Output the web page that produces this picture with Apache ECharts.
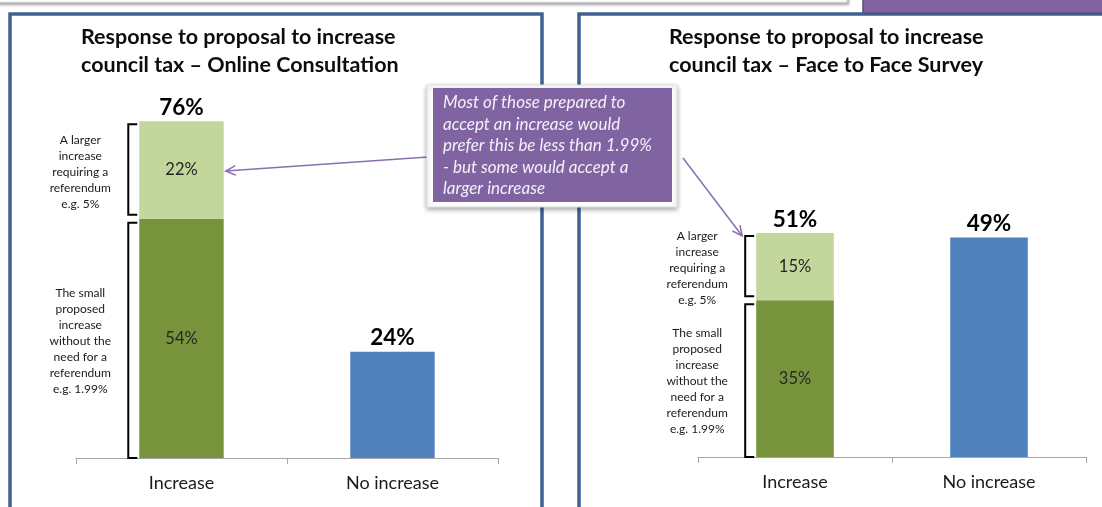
<!DOCTYPE html>
<html>
<head>
<meta charset="utf-8">
<script src="https://cdn.jsdelivr.net/npm/echarts@6/dist/echarts.min.js"></script>
<style>
html,body{margin:0;padding:0;background:#fff;}
#c{width:1102px;height:507px;}
</style>
</head>
<body>
<div id="c"></div>
<script>
// ---- data ----
const categories = ['Increase', 'No increase'];
const onlineSmall = [54, '-'];
const onlineLarger = [22, '-'];
const onlineNo = ['-', 24];
const onlineTotals = [76, 24];
const f2fSmall = [35, '-'];
const f2fLarger = [15, '-'];
const f2fNo = ['-', 49];
const f2fTotals = [51, 49];
const titles = ['Response to proposal to increase\ncouncil tax \u2013 Online Consultation',
                'Response to proposal to increase\ncouncil tax \u2013 Face to Face Survey'];
const bracketUpper = 'A larger\nincrease\nrequiring a\nreferendum\ne.g. 5%';
const bracketLower = 'The small\nproposed\nincrease\nwithout the\nneed for a\nreferendum\ne.g. 1.99%';
const calloutText = 'Most of those prepared to\naccept an increase would\nprefer this be less than 1.99%\n- but some would accept a\nlarger increase';
const annexText = 'See Annexe for further details';

const FONT = 'Lato, "Open Sans", sans-serif';
const C_DARK = '#77933C', C_LIGHT = '#C3D69B', C_BLUE = '#4F81BD';

const chart = echarts.init(document.getElementById('c'), null, {renderer: 'canvas'});

function axisX(i) {
  return {
    type: 'category', gridIndex: i, data: categories,
    axisLine: {lineStyle: {color: '#a6a6a6', width: 1}},
    axisTick: {show: true, length: 6, lineStyle: {color: '#a6a6a6'}},
    axisLabel: {fontSize: 18, color: '#1a1a1a', margin: 16, fontFamily: FONT}
  };
}
function axisY(i) {
  return {type: 'value', gridIndex: i, min: 0, max: 100, show: false, splitLine: {show: false}};
}
function seriesFor(i, small, larger, no, totals) {
  const inner = {show: true, position: 'inside', fontSize: 16.5, color: '#262626', fontFamily: FONT,
                 formatter: p => p.value + '%'};
  return [
    {type: 'bar', xAxisIndex: i, yAxisIndex: i, stack: 's' + i, barWidth: '40%', data: small,
     itemStyle: {color: C_DARK}, label: inner},
    {type: 'bar', xAxisIndex: i, yAxisIndex: i, stack: 's' + i, data: larger,
     itemStyle: {color: C_LIGHT}, label: inner},
    {type: 'bar', xAxisIndex: i, yAxisIndex: i, stack: 's' + i, data: no,
     itemStyle: {color: C_BLUE}},
    {type: 'bar', xAxisIndex: i, yAxisIndex: i, stack: 's' + i, data: totals.map(() => 0),
     itemStyle: {color: 'transparent'},
     label: {show: true, position: 'top', distance: 2, fontSize: 22.5, fontWeight: 'bold', color: '#000',
             fontFamily: FONT, formatter: p => totals[p.dataIndex] + '%'}}
  ];
}

chart.setOption({
  animation: false,
  textStyle: {fontFamily: FONT},
  grid: [
    {left: 76, right: 604, top: 15, bottom: 49},
    {left: 698, right: 16, top: 9, bottom: 50}
  ],
  xAxis: [axisX(0), axisX(1)],
  yAxis: [axisY(0), axisY(1)],
  series: [].concat(
    seriesFor(0, onlineSmall, onlineLarger, onlineNo, onlineTotals),
    seriesFor(1, f2fSmall, f2fLarger, f2fNo, f2fTotals)
  )
});

// ---- annotations derived from the chart's own scales ----
const g = [];
// panels
g.push({type: 'rect', z: 1, silent: true, shape: {x: 10, y: 14, width: 532, height: 600},
        style: {fill: 'none', stroke: '#3F6190', lineWidth: 3.5}});
g.push({type: 'rect', z: 1, silent: true, shape: {x: 579, y: 14, width: 600, height: 600},
        style: {fill: 'none', stroke: '#3F6190', lineWidth: 3.5}});
// top strip
g.push({type: 'rect', z: 2, silent: true, shape: {x: -10, y: -30, width: 858, height: 33},
        style: {fill: '#fff', stroke: '#bdbdbd', lineWidth: 1.5, shadowBlur: 3, shadowOffsetY: 1, shadowColor: 'rgba(0,0,0,0.35)'}});
g.push({type: 'rect', z: 2, silent: true, shape: {x: 863, y: -30, width: 260, height: 43},
        style: {fill: '#8064A2', stroke: '#5f4a7c', lineWidth: 1.5}});
g.push({type: 'text', z: 3, silent: true, x: 898, y: 3,
        style: {text: annexText, fill: '#fff', font: '15px ' + FONT, textVerticalAlign: 'bottom'}});
// titles
g.push({type: 'text', z: 3, silent: true, x: 81, y: 23,
        style: {text: titles[0], fill: '#0d0d0d', font: 'bold 21.5px ' + FONT, lineHeight: 28}});
g.push({type: 'text', z: 3, silent: true, x: 669, y: 23,
        style: {text: titles[1], fill: '#0d0d0d', font: 'bold 21.5px ' + FONT, lineHeight: 28}});

function px(i, cat, v) { return chart.convertToPixel({xAxisIndex: i, yAxisIndex: i}, [cat, v]); }

const geo = [];
[[onlineSmall, onlineLarger], [f2fSmall, f2fLarger]].forEach(function (d, i) {
  const small = d[0][0], larger = d[1][0];
  const c0 = px(i, 0, 0), c1 = px(i, 1, 0);
  const catW = c1[0] - c0[0];
  const barW = catW * 0.4;
  const barL = c0[0] - barW / 2;
  const yBase = c0[1];
  const yMid = px(i, 0, small)[1];
  const yTop = px(i, 0, small + larger)[1];
  const bx = barL - 11;
  const ex = barL - 2;
  const up = [yTop + 3, yMid - 4];
  const lo = [yMid + 4, yBase];
  [up, lo].forEach(function (r) {
    g.push({type: 'polyline', z: 4, silent: true,
            shape: {points: [[ex, r[0]], [bx, r[0]], [bx, r[1]], [ex, r[1]]]},
            style: {stroke: '#000', lineWidth: 2, fill: 'none'}});
  });
  const tx = barL - 59;
  g.push({type: 'text', z: 4, silent: true, x: tx, y: (yTop + yMid) / 2 + 2,
          style: {text: bracketUpper, fill: '#1a1a1a', font: '12px ' + FONT, lineHeight: 16,
                  textAlign: 'center', textVerticalAlign: 'middle'}});
  g.push({type: 'text', z: 4, silent: true, x: tx, y: (yMid + yBase) / 2 + 3,
          style: {text: bracketLower, fill: '#1a1a1a', font: '12px ' + FONT, lineHeight: 16,
                  textAlign: 'center', textVerticalAlign: 'middle'}});
  geo.push({barL: barL, barR: barL + barW, yTop: yTop, yMid: yMid});
});

// callout box
g.push({type: 'rect', z: 10, silent: true, shape: {x: 427, y: 85, width: 250, height: 122},
        style: {fill: '#fff', stroke: '#e6e6e6', lineWidth: 1, shadowBlur: 5, shadowOffsetY: 2, shadowColor: 'rgba(0,0,0,0.35)'}});
g.push({type: 'rect', z: 11, silent: true, shape: {x: 433, y: 88, width: 239, height: 114},
        style: {fill: '#8064A2'}});
g.push({type: 'text', z: 12, silent: true, x: 443, y: 92,
        style: {text: calloutText, fill: '#f4f0f8', font: 'italic 17px ' + FONT, lineHeight: 21.5}});

function arrow(x1, y1, x2, y2) {
  const a = Math.atan2(y2 - y1, x2 - x1);
  const L = 11, w = 0.45;
  const p1 = [x2 - L * Math.cos(a - w), y2 - L * Math.sin(a - w)];
  const p2 = [x2 - L * Math.cos(a + w), y2 - L * Math.sin(a + w)];
  g.push({type: 'line', z: 9, silent: true, shape: {x1: x1, y1: y1, x2: x2, y2: y2},
          style: {stroke: '#8a6fb0', lineWidth: 1.5}});
  g.push({type: 'polyline', z: 9, silent: true, shape: {points: [p1, [x2, y2], p2]},
          style: {stroke: '#8a6fb0', lineWidth: 1.5, fill: 'none'}});
}
// left arrow points at the larger-increase segment of the online bar
arrow(428, 157, geo[0].barR + 2, (geo[0].yTop + geo[0].yMid) / 2 + 1);
// right arrow points at top-left of face-to-face bar
arrow(683, 158, geo[1].barL - 14, geo[1].yTop + 3);

chart.setOption({graphic: g});
</script>
</body>
</html>
